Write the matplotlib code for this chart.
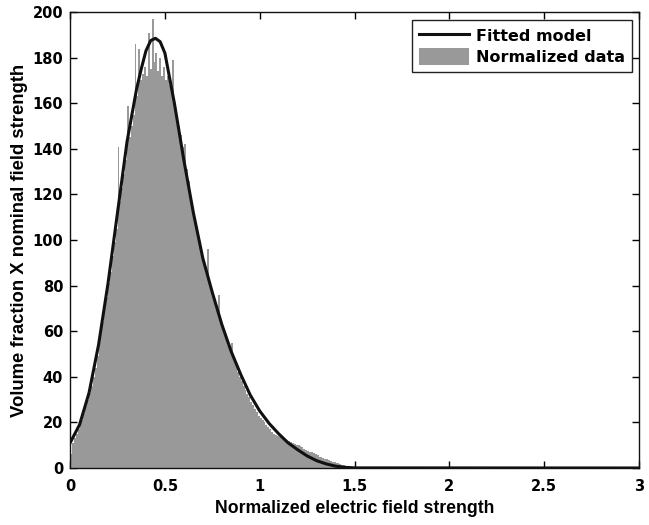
""" Normalized field strength histogram with fitted model. """
import numpy as np
import matplotlib
matplotlib.use("Agg")
import matplotlib.pyplot as plt

# histogram: left bin edges (width 0.01) and bar heights
bin_width = 0.01
hist_heights = [
    6, 11, 13, 15, 17, 19, 21, 24, 27, 30,
    33, 36, 40, 44, 49, 54, 59, 64, 70, 75,
    81, 86, 93, 99, 105, 141, 117, 123, 129, 135,
    159, 145, 150, 155, 186, 163, 184, 170, 173, 176,
    172, 191, 175, 197, 178, 182, 174, 180, 172, 176,
    170, 172, 168, 166, 179, 158, 154, 150, 146, 141,
    142, 131, 126, 121, 116, 111, 107, 103, 99, 95,
    91, 88, 96, 82, 79, 76, 73, 70, 76, 64,
    62, 59, 57, 54, 52, 55, 48, 46, 42, 40,
    38, 36, 34, 32.5, 31, 29, 27.5, 26, 24.5, 23,
    22, 21, 20, 19, 18, 17, 16, 15, 14.5, 14,
    13.5, 13, 12.5, 12.5, 12, 12, 11.5, 11, 10.5, 10,
    10, 9.5, 9, 8.5, 8, 7.5, 7, 6.8, 6.5, 6,
    5.5, 5, 5, 4.5, 4, 3.8, 3.5, 3, 2.8, 2.5,
    2.2, 2, 1.7, 1.5, 1.2, 1, 0.7, 0.5, 0.3, 0.1,
]
hist_edges = np.arange(len(hist_heights)) * bin_width

# fitted model curve
model_x = [0.0, 0.05, 0.1, 0.15, 0.2, 0.25, 0.3, 0.35, 0.375, 0.4, 0.425,
           0.45, 0.475, 0.5, 0.55, 0.6, 0.65, 0.7, 0.75, 0.8, 0.85, 0.9,
           0.95, 1.0, 1.05, 1.1, 1.15, 1.2, 1.25, 1.3, 1.35, 1.4, 1.45,
           1.5, 3.0]
model_y = [11, 19, 33, 54, 81, 112, 143, 166, 175, 183, 187.5,
           188.5, 187, 182, 160, 135, 112, 92, 77, 63, 51, 41,
           32, 25, 19.5, 15, 11, 8, 5.3, 3.2, 1.8, 0.8, 0.3,
           0.05, 0]


def main() -> None:
    """Draw the chart."""
    plt.rcParams["font.family"] = ["DejaVu Sans"]
    plt.rcParams["font.weight"] = "bold"
    label_font = ["Liberation Sans", "DejaVu Sans"]

    fig = plt.figure(figsize=(6.49, 5.25), dpi=100)
    ax = fig.add_axes([0.108, 0.1086, 0.8766, 0.8684])

    ax.plot(model_x, model_y, color="#111111", linewidth=2.2,
            label="Fitted model", zorder=3)
    ax.bar(hist_edges, hist_heights, width=bin_width, align="edge",
           color="#999999", linewidth=0, label="Normalized data", zorder=2)

    ax.set_xlim(0, 3)
    ax.set_ylim(0, 200)
    ax.set_xticks(np.arange(0, 3.01, 0.5))
    ax.set_xticklabels(["0", "0.5", "1", "1.5", "2", "2.5", "3"])
    ax.set_yticks(np.arange(0, 201, 20))

    ax.tick_params(direction="in", top=True, right=True, length=5,
                   width=1, labelsize=10.5)
    ax.tick_params(axis="x", pad=8)
    ax.tick_params(axis="y", pad=5)
    for spine in ax.spines.values():
        spine.set_color("#111111")
        spine.set_linewidth(1)

    ax.set_xlabel("Normalized electric field strength", fontsize=12.7,
                  fontweight="bold", family=label_font, labelpad=4)
    ax.set_ylabel("Volume fraction X nominal field strength", fontsize=13.3,
                  fontweight="bold", family=label_font, labelpad=3)

    leg = ax.legend(loc="upper right", fontsize=11.5, fancybox=False,
                    framealpha=1, edgecolor="#222222",
                    handlelength=3.1, handleheight=1.25, handletextpad=0.44,
                    borderpad=0.44, labelspacing=0.25, borderaxespad=0,
                    bbox_to_anchor=(0.9877, 0.9825))
    leg.get_frame().set_linewidth(1)

    fig.savefig("out.png", dpi=100)
    plt.close(fig)


if __name__ == "__main__":
    main()
